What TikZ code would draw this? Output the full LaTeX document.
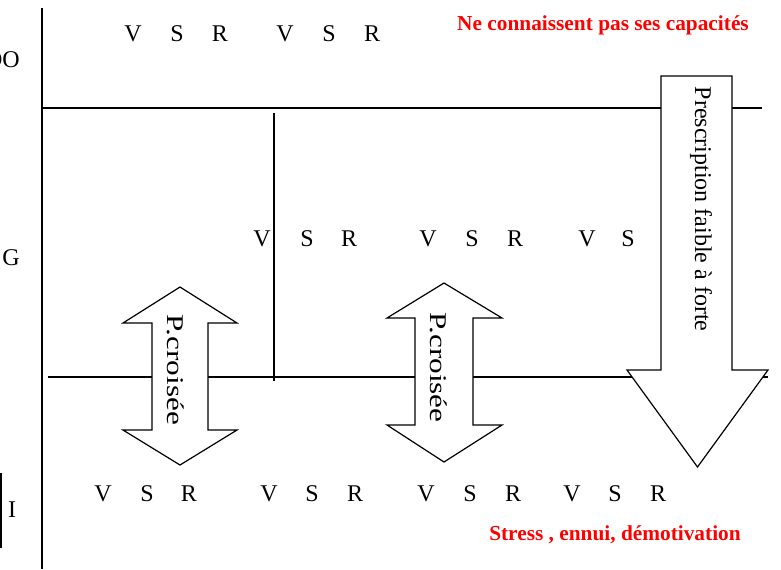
\documentclass[tikz,border=0pt]{standalone}
\usepackage{fontspec}
\setmainfont{Liberation Serif}
\begin{document}
\begin{tikzpicture}[x=0.75pt,y=-0.75pt,
  lbl/.style={inner sep=0pt,font=\fontsize{18}{20}\selectfont},
  redlbl/.style={inner sep=0pt,text=red,font=\fontsize{16}{18}\selectfont\bfseries},
  ln/.style={line width=0.9pt},
  arrowbox/.style={draw=black,fill=white,line width=0.9pt,line join=miter},
  vtext/.style={inner sep=0pt,rotate=-90,anchor=base,font=\fontsize{18}{20}\selectfont}]
\useasboundingbox (0,0) rectangle (781,569);
% main lines
\coordinate (axT) at (42,8);
\coordinate (axB) at (42,569);
\draw[line width=1.5pt] (axT) -- (axB);
\coordinate (h1a) at (42,108);
\coordinate (h1b) at (762,108);
\draw[ln] (h1a) -- (h1b);
\coordinate (h2a) at (48,377);
\coordinate (h2b) at (768,377);
\draw[ln] (h2a) -- (h2b);
\coordinate (v1a) at (274,113);
\coordinate (v1b) at (274,381);
\draw[ln] (v1a) -- (v1b);
% left box edge
\coordinate (bxa) at (1,473);
\coordinate (bxb) at (1,548);
\draw[ln] (bxa) -- (bxb);
% left labels
\node[lbl,anchor=east] (lDO) at (20,60) {DO};
\node[lbl] (lG) at (11,258) {G};
\node[lbl] (lI) at (12,510) {I};
% letter rows
\foreach \n/\t/\x in {a/V/133,b/S/177,c/R/220,d/V/285,e/S/329,f/R/372}
  \node[lbl] (t\n) at (\x,34) {\t};
\foreach \n/\t/\x in {a/V/262,b/S/307,c/R/349,d/V/428,e/S/472,f/R/515,g/V/587,h/S/628}
  \node[lbl] (m\n) at (\x,239) {\t};
\foreach \n/\t/\x in {a/V/103,b/S/147,c/R/189,d/V/269,e/S/312,f/R/355,g/V/426,h/S/470,i/R/513,j/V/572,k/S/615,l/R/658}
  \node[lbl] (b\n) at (\x,494) {\t};
% red texts
\node[redlbl] (rtop) at (603,25.5) {Ne connaissent pas ses capacités};
\node[redlbl] (rbot) at (615,534.5) {Stress , ennui, démotivation};
% double arrows
\draw[arrowbox] (180,287) -- (237,323) -- (208,323) -- (208,430) -- (237,430) -- (180,465)
  -- (123,430) -- (152,430) -- (152,323) -- (123,323) -- cycle;
\node[vtext] (pc1) at (167,370) {\scalebox{1.3}[1]{P.croisée}};
\draw[arrowbox] (444,283) -- (502,318) -- (473,318) -- (473,425) -- (502,425) -- (444,462)
  -- (387,425) -- (415,425) -- (415,318) -- (387,318) -- cycle;
\node[vtext] (pc2) at (430,367.5) {\scalebox{1.3}[1]{P.croisée}};
% big arrow
\draw[arrowbox] (661,76) -- (732,76) -- (732,370) -- (768,370) -- (697.5,467)
  -- (627,370) -- (661,370) -- cycle;
\node[vtext] (presc) at (695,209) {Prescription faible à forte};
\end{tikzpicture}
\end{document}
